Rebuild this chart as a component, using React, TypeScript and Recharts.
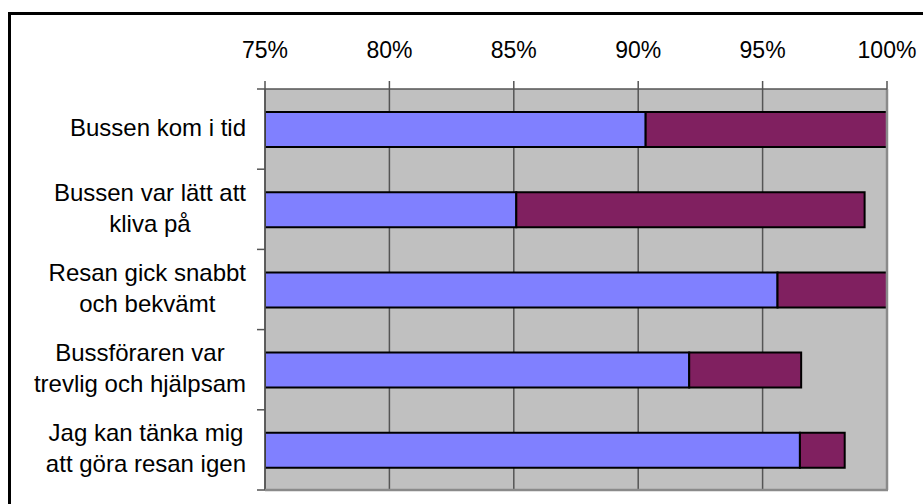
import React from "react";
import { BarChart, Bar, XAxis, YAxis, CartesianGrid, ReferenceLine } from "recharts";

const categoryLines: string[][] = [
  ["Bussen kom i tid"],
  ["Bussen var lätt att", "kliva på"],
  ["Resan gick snabbt", "och bekvämt"],
  ["Bussföraren var", "trevlig och hjälpsam"],
  ["Jag kan tänka mig", "att göra resan igen"],
];
const categories = categoryLines.map((l) => l.join(" "));
const seriesA = [90.3, 85.1, 95.6, 92.05, 96.5];
const seriesB = [9.7, 14.0, 4.4, 4.5, 1.8];
const xTicks = [75, 80, 85, 90, 95, 100];

const data = categories.map((c, i) => ({ name: c, a: seriesA[i], b: seriesB[i] }));

const FONT = "'Liberation Sans', Arial, sans-serif";
const W = 923;
const H = 504;
const PLOT_LEFT = 265;
const PLOT_TOP = 89;
const PLOT_BOTTOM = 490;
const BAND = (PLOT_BOTTOM - PLOT_TOP) / categories.length;
const LABEL_RIGHT = 246;
const LABEL_SIZE = 24;
const LINE_H = 31;

let ctx: CanvasRenderingContext2D | null = null;
function measure(s: string): number {
  if (!ctx) {
    const c = document.createElement("canvas");
    ctx = c.getContext("2d");
  }
  if (!ctx) return s.length * LABEL_SIZE * 0.5;
  ctx.font = `${LABEL_SIZE}px 'Liberation Sans'`;
  return ctx.measureText(s).width;
}

const YTick = (props: any) => {
  const { y, index } = props;
  const lines = categoryLines[index] || [];
  const blockW = Math.max(...lines.map(measure));
  const cx = LABEL_RIGHT - blockW / 2;
  const n = lines.length;
  return (
    <g>
      <line x1={PLOT_LEFT - 8} x2={PLOT_LEFT} y1={y - BAND / 2} y2={y - BAND / 2} stroke="#555" strokeWidth={1.5} />
      {index === categories.length - 1 && (
        <line x1={PLOT_LEFT - 8} x2={PLOT_LEFT} y1={y + BAND / 2} y2={y + BAND / 2} stroke="#555" strokeWidth={1.5} />
      )}
      {lines.map((ln, i) => (
        <text
          key={i}
          x={cx}
          y={y + 7 + (i - (n - 1) / 2) * LINE_H}
          textAnchor="middle"
          fontSize={LABEL_SIZE}
          fontFamily={FONT}
          fill="#000"
        >
          {ln}
        </text>
      ))}
    </g>
  );
};

export default function App() {
  return (
    <div style={{ position: "fixed", left: 0, top: 0, width: W, height: H, background: "#fff", overflow: "hidden" }}>
      <div
        style={{
          position: "absolute",
          left: 8,
          top: 12,
          width: W + 20,
          height: H + 20,
          border: "3px solid #000",
          boxSizing: "border-box",
        }}
      />
      <div style={{ position: "absolute", left: 0, top: 0 }}>
        <BarChart
          width={W}
          height={H}
          data={data}
          layout="vertical"
          margin={{ top: 0, right: W - 887, left: 0, bottom: H - PLOT_BOTTOM }}
          barSize={35}
        >
          <CartesianGrid
            horizontal={false}
            vertical={true}
            fill="#C0C0C0"
            stroke="#555"
            strokeWidth={1.5}
            fillOpacity={1}
          />
          <XAxis
            type="number"
            orientation="top"
            domain={[75, 100]}
            ticks={xTicks}
            allowDataOverflow
            height={PLOT_TOP}
            tickSize={8}
            tickMargin={23}
            tickFormatter={(v: number) => `${v}%`}
            tick={{ fontSize: 23, fontFamily: FONT, fill: "#000" }}
            axisLine={{ stroke: "#555", strokeWidth: 1.5 }}
            tickLine={{ stroke: "#555", strokeWidth: 1.5 }}
            interval={0}
          />
          <YAxis
            type="category"
            dataKey="name"
            width={PLOT_LEFT}
            tickLine={false}
            axisLine={{ stroke: "#555", strokeWidth: 1.5 }}
            tick={<YTick />}
            interval={0}
          />
          <ReferenceLine x={100} stroke="#8a8a8a" strokeWidth={2.5} />
          <Bar dataKey="a" stackId="s" fill="#8080FF" stroke="#000" strokeWidth={2} isAnimationActive={false} />
          <Bar dataKey="b" stackId="s" fill="#802060" stroke="#000" strokeWidth={2} isAnimationActive={false} />
          <ReferenceLine
            segment={[
              { x: 75, y: categories[categories.length - 1] },
              { x: 100, y: categories[categories.length - 1] },
            ]}
            stroke="none"
          />
        </BarChart>
      </div>
      <svg style={{ position: "absolute", left: 0, top: 0, pointerEvents: "none" }} width={W} height={H}>
        <line x1={PLOT_LEFT} x2={888} y1={PLOT_BOTTOM} y2={PLOT_BOTTOM} stroke="#8a8a8a" strokeWidth={2.5} />
      </svg>
    </div>
  );
}
